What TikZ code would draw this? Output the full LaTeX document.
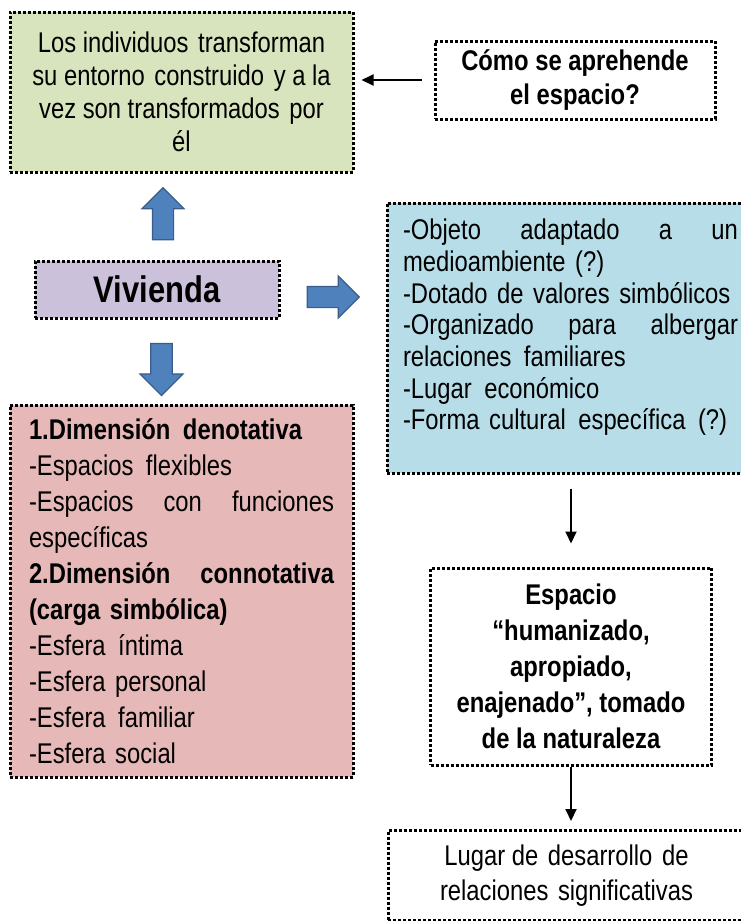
\documentclass[tikz,border=0pt]{standalone}
\usepackage{fontspec}
\setmainfont{Liberation Sans}[FakeStretch=0.835]
\usetikzlibrary{arrows.meta,shapes.arrows}
\definecolor{verde}{HTML}{D7E4BD}
\definecolor{lila}{HTML}{CCC1DA}
\definecolor{celeste}{HTML}{B7DEE8}
\definecolor{rosa}{HTML}{E6B9B8}
\definecolor{azul}{HTML}{4F81BD}
\definecolor{azulb}{HTML}{385D8A}
\tikzset{
caja/.style={draw=black,line width=3pt,dash pattern=on 3pt off 2pt,inner sep=0pt},
flecha/.style={single arrow,draw=azulb,fill=azul,line width=1.2pt,inner sep=10pt,
  single arrow head extend=10.5pt,single arrow tip angle=90},
conector/.style={line width=2pt,-{Triangle[length=12pt,width=11pt]}}
}
\begin{document}
\begin{tikzpicture}[x=1pt,y=-1pt]
\useasboundingbox (0,0) rectangle (741,921);
\def\tam#1#2{\fontsize{#1}{#2}\selectfont}
\def\llena#1#2{\makebox[#1pt]{#2}}
\def\esp{\hspace{3pt}}
\node[caja,fill=verde,minimum width=343,minimum height=160,align=center,font=\tam{28.5}{33}] (indiv) at (181.5,92)
{Los individuos\esp{} transforman\\
su entorno\esp{} construido\esp{} y a la\\
vez son transformados\esp{} por\\
él};
\node[caja,minimum width=280,minimum height=78,align=center,font=\tam{28.5}{34}\bfseries] (preg) at (575,80)
{Cómo se aprehende\\el espacio?};
\node[caja,fill=lila,minimum width=244,minimum height=57,font=\tam{37}{40}\bfseries] (viv) at (157,289.5) {Vivienda};
\node[caja,fill=celeste,minimum width=367,minimum height=270,text width=335,align=left,font=\tam{28.5}{31.7}] (rasgos) at (570.5,338)
{\llena{335}{-Objeto\hfill adaptado\hfill a\hfill un}\\
medioambiente (?)\\
-Dotado de valores simbólicos\\
\llena{335}{-Organizado\hfill para\hfill albergar}\\
relaciones\esp{} familiares\\
-Lugar\esp{} económico\\
-Forma cultural\esp{} específica\esp{} (?)\rule[-27pt]{0pt}{0pt}};
\node[caja,fill=rosa,minimum width=343,minimum height=372,text width=305,align=left,font=\tam{28.5}{36}] (dim) at (181.5,591)
{\textbf{1.Dimensión\esp{} denotativa}\\
-Espacios\esp{} flexibles\\
\llena{305}{-Espacios\hfill con\hfill funciones}\\
específicas\\
\llena{305}{\bfseries 2.Dimensión\hfill connotativa}\\
\textbf{(carga simbólica)}\\
-Esfera\esp{} íntima\\
-Esfera personal\\
-Esfera\esp{} familiar\\
-Esfera social};
\node[caja,minimum width=281,minimum height=197,align=center,font=\tam{28.5}{36}\bfseries] (espacio) at (571,666.5)
{Espacio\\“humanizado,\\apropiado,\\enajenado”, tomado\\de la naturaleza};
\node[caja,minimum width=357,minimum height=90,align=center,font=\tam{28.5}{35}] (lugar) at (566.5,875.5)
{Lugar de\esp{} desarrollo\esp{} de\\relaciones\esp{} significativas};
\node[flecha,shape border rotate=90,minimum width=41,minimum height=52] (farriba) at (163,219) {};
\node[flecha,minimum width=40,minimum height=52] (fderecha) at (328,297) {};
\node[flecha,shape border rotate=270,minimum width=43,minimum height=52] (fabajo) at (161.5,364) {};
\draw[conector,shorten <=12pt,shorten >=7pt] (preg.west) -- (preg.west -| indiv.east);
\draw[conector,shorten <=14pt,shorten >=23pt] (rasgos.south -| espacio.north) -- (espacio.north);
\draw[conector,shorten >=8pt] (espacio.south) -- (espacio.south |- lugar.north);
\end{tikzpicture}
\end{document}
